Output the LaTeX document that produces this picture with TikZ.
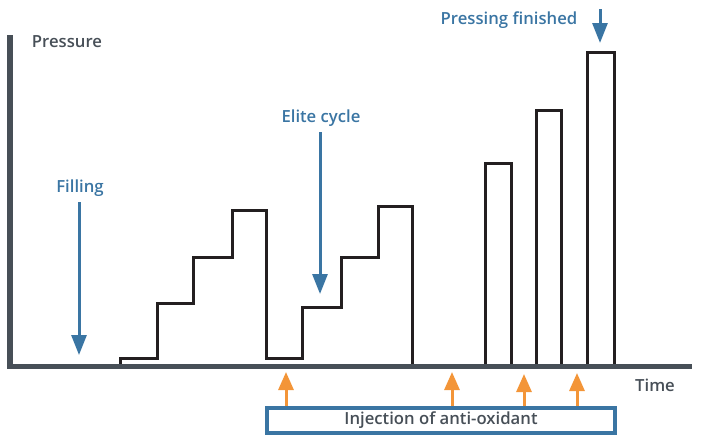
\documentclass[tikz,border=0pt]{standalone}
\usepackage{fontspec}
\setmainfont{Open Sans}
\newfontfamily\semib{Open Sans Semibold}
\usetikzlibrary{arrows.meta}
\definecolor{lblue}{HTML}{3A75A3}
\definecolor{lorange}{HTML}{F39538}
\definecolor{axisgray}{HTML}{474F57}
\definecolor{lineblack}{HTML}{231F20}
\begin{document}
\begin{tikzpicture}[x=1pt,y=-1pt,
  curve/.style={draw=lineblack,line width=3pt,line join=miter},
  axisline/.style={draw=axisgray,line width=5.3pt},
  bluelabel/.style={text=lblue,font=\semib\fontsize{16.7}{19}\selectfont,inner sep=0pt},
  graylabel/.style={text=axisgray,font=\semib\fontsize{16.7}{19}\selectfont,inner sep=0pt},
  bluearrow/.style={draw=lblue,line width=3pt,-{Triangle[length=20pt,width=15pt]}},
  orangearrow/.style={draw=lorange,line width=3pt,-{Triangle[length=18pt,width=15pt]}},
  injbox/.style={draw=lblue,line width=3.6pt,minimum width=348pt,minimum height=25pt,inner sep=0pt,font=\semib\fontsize{16.7}{19}\selectfont,text=axisgray}
]
\useasboundingbox (0,0) rectangle (704,447);
% pressure curve
\draw[curve] (120,366) -- (120,358) -- (157,358) -- (157,303) -- (193,303) -- (193,257) -- (232,257) -- (232,210) -- (266,210) -- (266,358) -- (302,358) -- (302,307) -- (341,307) -- (341,257) -- (378,257) -- (378,206) -- (412,206) -- (412,366);
\draw[curve] (485,366) -- (485,163) -- (511,163) -- (511,366);
\draw[curve] (536,366) -- (536,110) -- (561,110) -- (561,366);
\draw[curve] (587,366) -- (587,52) -- (614,52) -- (614,366);
% axes
\draw[axisline] (10,35) -- (10,369.1);
\draw[axisline] (7.3,366.5) -- (692,366.5);
% labels
\node[graylabel] (pressure) at (67,42) {Pressure};
\node[graylabel] (time) at (655,385) {Time};
\node[bluelabel] (filling) at (80,188) {Filling};
\node[bluelabel] (elite) at (321,118) {Elite cycle};
\node[bluelabel] (pressing) at (509,20) {Pressing finished};
% blue arrows
\coordinate (fa) at (79,202); \coordinate (fb) at (79,355);
\coordinate (ea) at (320,132); \coordinate (eb) at (320,294);
\coordinate (pa) at (600,9); \coordinate (pb) at (600,43);
\draw[bluearrow] (fa) -- (fb);
\draw[bluearrow] (ea) -- (eb);
\draw[bluearrow] (pa) -- (pb);
% injection box
\node[injbox] (inj) at (441,420.5) {Injection of anti-oxidant};
\coordinate (o1) at (286,372); \coordinate (o2) at (452,372);
\coordinate (o3) at (524,374); \coordinate (o4) at (577,373);
\draw[orangearrow] (inj.north -| o1) -- (o1);
\draw[orangearrow] (inj.north -| o2) -- (o2);
\draw[orangearrow] (inj.north -| o3) -- (o3);
\draw[orangearrow] (inj.north -| o4) -- (o4);
\end{tikzpicture}
\end{document}
